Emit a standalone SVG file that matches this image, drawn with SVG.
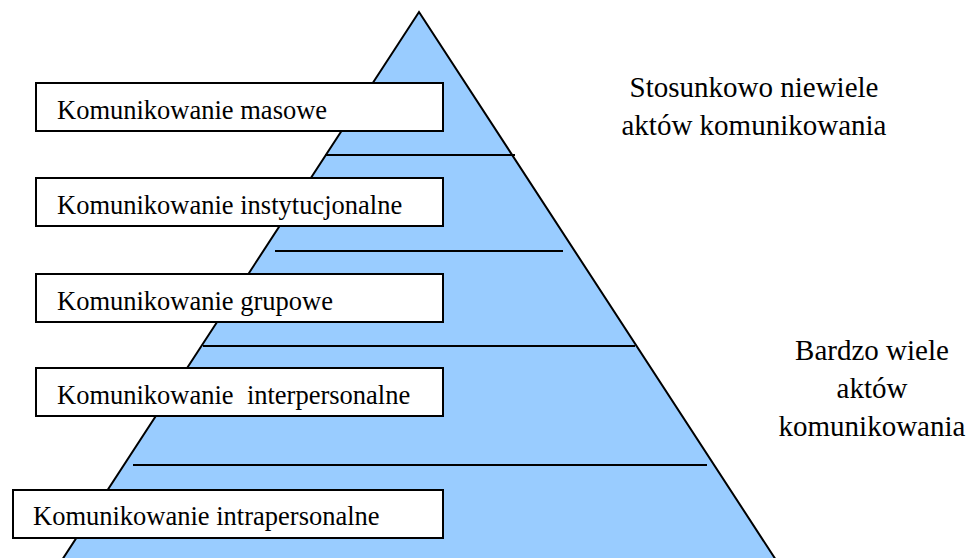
<svg xmlns="http://www.w3.org/2000/svg" width="971" height="558" viewBox="0 0 971 558">
  <style>
    .tier { fill: #ffffff; stroke: #000000; stroke-width: 2; }
    .lbl { font-family: "Liberation Serif", "Times New Roman", serif; font-size: 26.5px; fill: #000000; }
    .note { font-family: "Liberation Serif", "Times New Roman", serif; font-size: 29px; fill: #000000; text-anchor: middle; }
    .sep { stroke: #000000; stroke-width: 2; fill: none; }
  </style>
  <rect x="0" y="0" width="971" height="558" fill="#ffffff"/>

  <!-- pyramid body -->
  <g id="pyramid">
    <polygon points="419,12 776,560 62,560" fill="#99ccff" stroke="#000000" stroke-width="2"/>
  </g>

  <!-- level separators -->
  <g id="connectors">
    <line class="sep" x1="325" y1="155" x2="515" y2="155"/>
    <line class="sep" x1="275" y1="251" x2="563" y2="251"/>
    <line class="sep" x1="203" y1="346" x2="635" y2="346"/>
    <line class="sep" x1="133" y1="465" x2="707" y2="465"/>
  </g>

  <!-- level labels -->
  <g id="masowe">
    <rect class="tier" x="36" y="83" width="407" height="48"/>
    <text class="lbl" x="57" y="119">Komunikowanie masowe</text>
  </g>
  <g id="instytucjonalne">
    <rect class="tier" x="36" y="178" width="407" height="48"/>
    <text class="lbl" x="57" y="214">Komunikowanie instytucjonalne</text>
  </g>
  <g id="grupowe">
    <rect class="tier" x="36" y="274" width="407" height="48"/>
    <text class="lbl" x="57" y="310">Komunikowanie grupowe</text>
  </g>
  <g id="interpersonalne">
    <rect class="tier" x="36" y="368" width="407" height="48"/>
    <text class="lbl" x="57" y="404" xml:space="preserve">Komunikowanie  interpersonalne</text>
  </g>
  <g id="intrapersonalne">
    <rect class="tier" x="13" y="490" width="430" height="48"/>
    <text class="lbl" x="33" y="525">Komunikowanie intrapersonalne</text>
  </g>

  <!-- side notes -->
  <g id="note-top">
    <text class="note" x="754" y="97">Stosunkowo niewiele</text>
    <text class="note" x="754" y="135">aktów komunikowania</text>
  </g>
  <g id="note-bottom">
    <text class="note" x="872" y="360">Bardzo wiele</text>
    <text class="note" x="872" y="398">aktów</text>
    <text class="note" x="872" y="436">komunikowania</text>
  </g>
</svg>
